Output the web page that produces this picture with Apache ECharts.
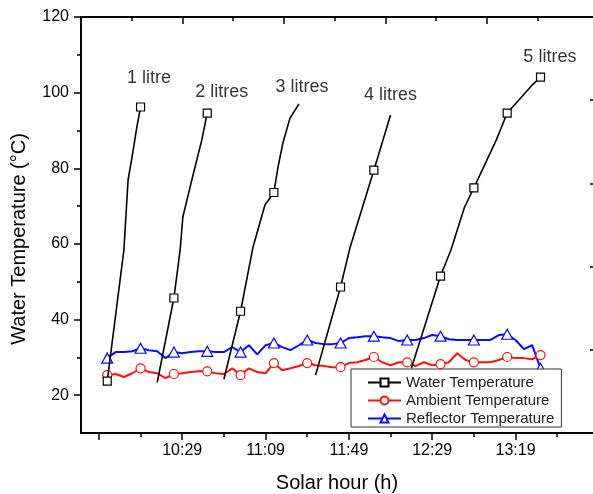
<!DOCTYPE html>
<html>
<head>
<meta charset="utf-8">
<script src="https://cdn.jsdelivr.net/npm/echarts@6/dist/echarts.min.js"></script>
<style>
  html, body { margin: 0; padding: 0; background: #fff; }
  #chart { width: 593px; height: 494px; }
</style>
</head>
<body>
<div id="chart"></div>
<script>
// time in minutes after the first (unlabelled) bottom tick
const sampleTimes = [4, 8, 12, 16, 20, 24, 28, 32, 36, 40, 44, 48, 52, 56, 60, 64, 68, 72, 76, 80,
    84, 88, 92, 96, 100, 104, 108, 112, 116, 120, 124, 128, 132, 136, 140, 144, 148, 152, 156, 160,
    164, 168, 172, 176, 180, 184, 188, 192, 196, 200, 204, 208, 212];
const ambientTemp = [25.3, 25.6, 24.8, 25.8, 27.1, 26.1, 25.8, 24.5, 25.6, 25.8,
    26.1, 26.3, 26.3, 25.8, 25.6, 27.1, 25.3, 27.1, 26.1, 25.8,
    28.5, 26.6, 27.1, 27.7, 28.5, 27.9, 27.7, 27.4, 27.4, 28.5,
    28.7, 29.3, 30.1, 28.7, 27.9, 28.7, 28.7, 27.7, 28.7, 27.9,
    28.2, 28.7, 31.1, 29.3, 28.7, 28.7, 28.7, 29.3, 30.1, 29.8,
    29.8, 29.5, 30.6];
const reflectorTemp = [29.8, 31.4, 31.4, 31.6, 32.4, 31.9, 31.6, 29.8, 31.4, 31.1,
    31.4, 31.6, 31.6, 31.4, 31.4, 32.7, 31.4, 33.2, 30.8, 33.2,
    33.8, 32.7, 31.9, 33.2, 34.6, 33.8, 33.5, 33.5, 33.8, 35.1,
    35.3, 35.6, 35.6, 35.3, 35.1, 34.3, 34.6, 34.6, 35.1, 35.9,
    35.6, 34.8, 34.6, 34.6, 34.6, 34.6, 34.6, 35.9, 36.1, 34.6,
    32.2, 33.2, 27.1];

const water1 = [[4, 23.7], [12, 58.4], [14, 76.9], [16.3, 84.3], [18.2, 90.9], [20, 96.2]];
const water2 = [[28, 23.4], [36, 45.7], [39, 58.4], [40.3, 67.1], [44.6, 76.9], [49.4, 87.5], [52, 94.6]];
const water3 = [[60, 24.2], [68, 42.2], [74, 59.2], [79.7, 70.3], [84, 73.6], [86, 80.4], [88.3, 86.6], [91.7, 93.2], [96, 97]];
const water4 = [[104, 25.3], [116, 48.6], [120.5, 58.9], [132, 79.5], [140, 94.1]];
const water5 = [[150, 27.1], [164, 51.5], [169, 58.4], [175.5, 69.7], [180, 74.8], [190.8, 87.5], [196, 94.6], [202.8, 98.8], [208, 102], [212, 104.1]];
const waterSegments = [water1, water2, water3, water4, water5];
const waterMarkTimes = [4, 20, 36, 52, 68, 84, 116, 132, 164, 180, 196, 212];

const volumeLabels = ['1 litre', '2 litres', '3 litres', '4 litres', '5 litres'];
const volumeLabelPos = [[24, 103.9], [59, 100.2], [97.5, 101.5], [140, 99.4], [216.5, 109.4]];

const xMajorTicks = [0, 40, 80, 120, 160, 200];
const xMinorTicks = [20, 60, 100, 140, 180, 220];
const xTickValues = [40, 80, 120, 160, 200];
const xTickLabels = ['10:29', '11:09', '11:49', '12:29', '13:19'];
const yLabelTicks = [20, 40, 60, 80, 100, 120];
const yMinorTicks = [30, 50, 70, 90, 110];
const topMajorTicks = [2, 4, 6, 8];
const topMinorTicks = [1, 3, 5, 7, 9];
const rightTicks = [1, 2, 3, 4];

const FONT = 'Liberation Sans, Arial, sans-serif';

const chart = echarts.init(document.getElementById('chart'));

const markedData = (times, values, every) => times.map((t, i) => ({
    value: [t, values[i]],
    symbol: i % every === 0 ? undefined : 'none',
}));

const waterSeries = waterSegments.map(seg => ({
    name: 'Water Temperature',
    type: 'line',
    xAxisIndex: 0,
    yAxisIndex: 0,
    symbol: 'rect',
    symbolSize: 8,
    showAllSymbol: true,
    z: 5,
    lineStyle: {color: '#000', width: 1.6},
    itemStyle: {color: '#fff', borderColor: '#000', borderWidth: 1.2},
    data: seg.map(p => ({
        value: p,
        symbol: waterMarkTimes.includes(p[0]) ? 'rect' : 'none',
    })),
}));

const tickStyle = {color: '#000', width: 1.5};

chart.setOption({
    animation: false,
    textStyle: {fontFamily: FONT},
    grid: {left: 81, right: 0, top: 17, bottom: 61, containLabel: false, outerBoundsMode: 'none'},
    legend: {
        data: ['Water Temperature', 'Ambient Temperature', 'Reflector Temperature'],
        orient: 'vertical',
        left: 351,
        top: 369,
        itemWidth: 33,
        itemHeight: 10,
        itemGap: 3,
        padding: [6, 7, 1, 16],
        backgroundColor: '#fff',
        borderColor: '#333',
        borderWidth: 1,
        borderRadius: 0,
        textStyle: {fontFamily: FONT, fontSize: 15, color: '#222', lineHeight: 15},
    },
    xAxis: [
        {
            type: 'value', position: 'bottom', min: -8.6, max: 237.2,
            splitLine: {show: false},
            axisLine: {onZero: false, lineStyle: {color: '#000', width: 2}},
            axisTick: {customValues: xMajorTicks, length: 7, lineStyle: tickStyle},
            axisLabel: {
                customValues: xTickValues, margin: 10, fontSize: 16, color: '#000', fontFamily: FONT,
                formatter: v => xTickLabels[xTickValues.indexOf(v)] ?? '',
            },
            name: 'Solar hour (h)', nameLocation: 'middle', nameGap: 40,
            nameTextStyle: {fontSize: 20, color: '#000', fontFamily: FONT},
        },
        {
            type: 'value', position: 'bottom', min: -8.6, max: 237.2,
            splitLine: {show: false}, axisLine: {show: false, onZero: false}, axisLabel: {show: false},
            axisTick: {customValues: xMinorTicks, length: 4, lineStyle: tickStyle},
        },
        {
            type: 'value', position: 'top', min: 0, max: 10.09,
            splitLine: {show: false}, axisLabel: {show: false},
            axisLine: {onZero: false, lineStyle: {color: '#000', width: 2}},
            axisTick: {customValues: topMajorTicks, inside: true, length: 7, lineStyle: tickStyle},
        },
        {
            type: 'value', position: 'top', min: 0, max: 10.09,
            splitLine: {show: false}, axisLine: {show: false, onZero: false}, axisLabel: {show: false},
            axisTick: {customValues: topMinorTicks, inside: true, length: 4, lineStyle: tickStyle},
        },
    ],
    yAxis: [
        {
            type: 'value', position: 'left', min: 10, max: 120,
            splitLine: {show: false},
            axisLine: {show: true, onZero: false, lineStyle: {color: '#000', width: 2}},
            axisTick: {show: true, customValues: yLabelTicks, length: 7, lineStyle: tickStyle},
            axisLabel: {customValues: yLabelTicks, margin: 12, fontSize: 16, color: '#000', fontFamily: FONT},
        },
        {
            type: 'value', position: 'left', min: 10, max: 120,
            splitLine: {show: false}, axisLine: {show: false, onZero: false}, axisLabel: {show: false},
            axisTick: {show: true, customValues: yMinorTicks, length: 4, lineStyle: tickStyle},
        },
        {
            type: 'value', position: 'right', min: 0, max: 5,
            splitLine: {show: false}, axisLine: {show: false, onZero: false}, axisLabel: {show: false},
            axisTick: {show: true, customValues: rightTicks, inside: true, length: 3, lineStyle: tickStyle},
        },
    ],
    graphic: [{
        type: 'text',
        x: 19,
        y: 239,
        rotation: Math.PI / 2,
        style: {
            text: 'Water Temperature (°C)',
            font: '20px Liberation Sans, Arial, sans-serif',
            fill: '#000',
            align: 'center',
            verticalAlign: 'middle',
            textAlign: 'center',
            textVerticalAlign: 'middle',
        },
    }],
    series: [
        {
            name: 'Reflector Temperature',
            type: 'line',
            symbol: 'triangle',
            symbolSize: [11, 10],
            showAllSymbol: true,
            z: 3,
            lineStyle: {color: '#0a0aff', width: 2},
            itemStyle: {color: '#fff', borderColor: '#0a0aff', borderWidth: 1.2},
            data: markedData(sampleTimes, reflectorTemp, 4),
        },
        {
            name: 'Ambient Temperature',
            type: 'line',
            symbol: 'circle',
            symbolSize: 9,
            showAllSymbol: true,
            z: 4,
            lineStyle: {color: '#ff1010', width: 2},
            itemStyle: {color: '#fff', borderColor: '#ff1010', borderWidth: 1.2},
            data: markedData(sampleTimes, ambientTemp, 4),
        },
        ...waterSeries,
        {
            name: 'volumes',
            type: 'scatter',
            symbolSize: 1,
            itemStyle: {color: 'rgba(0,0,0,0)'},
            silent: true,
            z: 6,
            label: {
                show: true,
                position: 'inside',
                fontSize: 18,
                color: '#000',
                fontFamily: FONT,
                formatter: p => volumeLabels[p.dataIndex],
            },
            data: volumeLabelPos,
        },
    ],
});
</script>
</body>
</html>
